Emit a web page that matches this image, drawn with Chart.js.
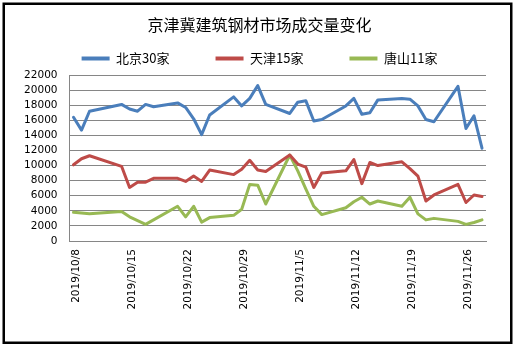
<!DOCTYPE html>
<html>
<head>
<meta charset="utf-8">
<script src="https://cdn.jsdelivr.net/npm/chart.js@4"></script>
<style>
html,body{margin:0;padding:0;background:#fff;}
canvas{display:block;}
</style>
</head>
<body>
<canvas id="c" width="519" height="348"></canvas>
<script>
const chartTitle = '京津冀建筑钢材市场成交量变化';
const seriesNames = ['北京30家', '天津15家', '唐山11家'];
const dates = [
  '2019/10/8','2019/10/9','2019/10/10','2019/10/11','2019/10/12','2019/10/13','2019/10/14',
  '2019/10/15','2019/10/16','2019/10/17','2019/10/18','2019/10/19','2019/10/20','2019/10/21',
  '2019/10/22','2019/10/23','2019/10/24','2019/10/25','2019/10/26','2019/10/27','2019/10/28',
  '2019/10/29','2019/10/30','2019/10/31','2019/11/1','2019/11/2','2019/11/3','2019/11/4',
  '2019/11/5','2019/11/6','2019/11/7','2019/11/8','2019/11/9','2019/11/10','2019/11/11',
  '2019/11/12','2019/11/13','2019/11/14','2019/11/15','2019/11/16','2019/11/17','2019/11/18',
  '2019/11/19','2019/11/20','2019/11/21','2019/11/22','2019/11/23','2019/11/24','2019/11/25',
  '2019/11/26','2019/11/27','2019/11/28'
];
const beijing = [
  16400,14700,17200,null,null,null,18100,
  17500,17200,18100,17800,null,null,18300,
  17700,16200,14100,16700,null,null,19100,
  17900,18900,20600,18100,null,null,16900,
  18400,18600,15900,16100,null,null,17900,
  18900,16800,17000,18700,null,null,18900,
  18800,17900,16100,15800,null,null,20500,
  14900,16600,12300
];
const tianjin = [
  10100,10900,11300,null,null,null,9900,
  7100,7800,7800,8300,null,null,8300,
  7900,8600,7900,9400,null,null,8800,
  9500,10700,9400,9200,null,null,11400,
  10200,9800,7100,9000,null,null,9300,
  10800,7600,10400,10000,null,null,10500,
  9600,8600,5300,6100,null,null,7500,
  5100,6100,5900
];
const tangshan = [
  3800,3700,3600,null,null,null,3900,
  3200,null,2200,null,null,null,4600,
  3200,4600,2500,3100,null,null,3400,
  4200,7500,7400,4900,null,null,11400,
  9300,6900,4600,3500,null,null,4400,
  5200,5800,4900,5300,null,null,4600,
  5800,3600,2800,3000,null,null,2600,
  2200,2450,2800
];
const yTicks = [0,2000,4000,6000,8000,10000,12000,14000,16000,18000,20000,22000];
const xLabelEvery = 7;
const colors = ['#4A7EBB', '#BE4B48', '#98B954'];

const latin = "'DejaVu Sans', 'Noto Sans CJK SC', sans-serif";
const cjk = "'Noto Sans CJK SC', 'DejaVu Sans', sans-serif";

const framePlugin = {
  id: 'frame',
  afterDraw(chart) {
    const c = chart.ctx;
    c.save();
    c.strokeStyle = '#000';
    c.lineWidth = 2.5;
    c.strokeRect(3.75, 3.75, 507.5, 339);
    c.restore();
  }
};

function ds(label, data, color) {
  return {
    label, data,
    borderColor: color, backgroundColor: color,
    borderWidth: 3, pointRadius: 0, pointHoverRadius: 0,
    tension: 0, spanGaps: true,
    borderJoinStyle: 'round', borderCapStyle: 'round'
  };
}

new Chart(document.getElementById('c'), {
  type: 'line',
  data: {
    labels: dates,
    datasets: [
      ds(seriesNames[0], beijing, colors[0]),
      ds(seriesNames[1], tianjin, colors[1]),
      ds(seriesNames[2], tangshan, colors[2])
    ]
  },
  options: {
    responsive: false,
    animation: false,
    devicePixelRatio: 1,
    layout: { padding: 0 },
    plugins: {
      title: {
        display: true,
        text: chartTitle,
        color: '#000',
        font: { family: cjk, size: 16, weight: 'normal' },
        padding: { top: 15, bottom: -28.2 }
      },
      legend: {
        display: true,
        position: 'top',
        labels: {
          color: '#000',
          font: { family: cjk, size: 13 },
          boxWidth: 28,
          boxHeight: 4,
          padding: 46,
          generateLabels(chart) {
            return Chart.defaults.plugins.legend.labels.generateLabels(chart)
              .map(l => Object.assign(l, { lineWidth: 0 }));
          }
        }
      },
      tooltip: { enabled: false }
    },
    scales: {
      x: {
        offset: true,
        grid: { display: false, drawTicks: false },
        border: { display: true, color: '#868686', width: 1 },
        ticks: {
          autoSkip: false,
          minRotation: 90,
          maxRotation: 90,
          padding: 8,
          labelOffset: 2.5,
          color: '#000',
          font: { family: latin, size: 10.5 },
          callback(val, idx) {
            return idx % xLabelEvery === 0 ? this.getLabelForValue(val) : null;
          }
        },
        afterFit(s) { s.height = 107; }
      },
      y: {
        min: 0,
        max: 22000,
        afterBuildTicks(s) { s.ticks = yTicks.map(v => ({ value: v })); },
        grid: { color: '#868686', lineWidth: 1, drawTicks: false },
        border: { display: true, color: '#868686', width: 1 },
        ticks: {
          autoSkip: false,
          padding: 12,
          color: '#000',
          font: { family: latin, size: 10.5 },
          callback(v) { return String(v); }
        },
        afterFit(s) { s.width = 69.5; }
      },
      yRight: {
        type: 'linear',
        position: 'right',
        display: true,
        grid: { display: false, drawTicks: false },
        border: { display: false },
        ticks: { display: false },
        afterFit(s) { s.width = 33; }
      }
    }
  },
  plugins: [framePlugin]
});
</script>
</body>
</html>
